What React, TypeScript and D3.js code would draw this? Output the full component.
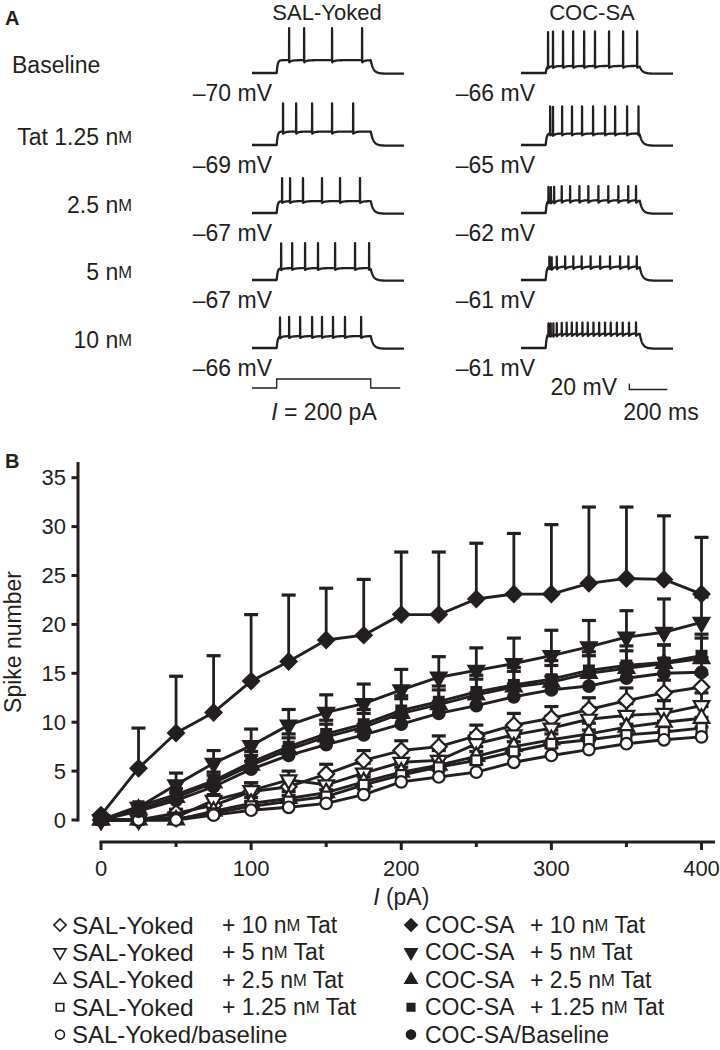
import React from "react";
import * as d3 from "d3";

// ---------- Panel B data ----------
const currents = [0, 25, 50, 75, 100, 125, 150, 175, 200, 225, 250, 275, 300, 325, 350, 375, 400];

const salTat10 = [0, 0, 0.7, 1.5, 2.9, 3.4, 4.7, 6.1, 7.1, 7.5, 8.6, 9.7, 10.4, 11.3, 12.2, 13.0, 13.6];
const salTat10Err = [0, 0, 0.4, 0.7, 0.9, 0.9, 1.0, 1.0, 1.0, 1.1, 1.1, 1.2, 1.2, 1.2, 1.3, 1.3, 1.3];
const salTat5 = [0, 0, 0.3, 2.0, 3.0, 4.1, 3.6, 4.8, 5.9, 6.1, 7.8, 8.7, 9.4, 10.3, 10.7, 10.9, 11.7];
const salTat5Err = [0, 0, 0.3, 0.6, 0.8, 0.9, 0.9, 1.0, 1.0, 1.0, 1.1, 1.1, 1.2, 1.2, 1.2, 1.3, 1.3];
const salTat25 = [0, 0, 0, 0.9, 1.7, 2.2, 2.8, 3.9, 4.9, 5.6, 6.5, 7.5, 8.2, 8.8, 9.5, 10.0, 10.4];
const salTat25Err = [0, 0, 0, 0.4, 0.6, 0.7, 0.8, 0.8, 0.9, 0.9, 1.0, 1.0, 1.0, 1.1, 1.1, 1.1, 1.2];
const salTat125 = [0, 0, 0.1, 0.7, 1.4, 1.9, 2.4, 3.6, 4.6, 5.4, 6.1, 7.0, 7.8, 8.2, 8.7, 9.0, 9.4];
const salTat125Err = [0, 0, 0.1, 0.4, 0.5, 0.6, 0.7, 0.8, 0.8, 0.9, 0.9, 1.0, 1.0, 1.0, 1.1, 1.1, 1.1];
const salBase = [0, 0, 0, 0.5, 1.0, 1.3, 1.7, 2.6, 3.9, 4.4, 4.9, 5.9, 6.6, 7.2, 7.8, 8.2, 8.5];
const salBaseErr = [0, 0, 0, 0.3, 0.4, 0.5, 0.6, 0.6, 0.7, 0.7, 0.8, 0.8, 0.8, 0.9, 0.9, 0.9, 1.0];

const cocTat10 = [0.5, 5.3, 8.9, 11.0, 14.2, 16.2, 18.4, 18.9, 21.0, 21.0, 22.6, 23.1, 23.1, 24.2, 24.7, 24.6, 23.1];
const cocTat10Err = [0, 4.1, 5.8, 5.8, 6.8, 6.8, 5.3, 5.7, 6.4, 6.4, 5.7, 6.2, 7.1, 7.8, 7.3, 6.5, 5.8];
const cocTat5 = [0, 1.3, 3.6, 5.8, 7.6, 9.7, 11.0, 11.9, 13.3, 14.6, 15.3, 16.0, 16.8, 17.7, 18.7, 19.2, 20.2];
const cocTat5Err = [0, 0.3, 1.2, 1.3, 1.7, 1.6, 1.8, 2.0, 2.1, 2.1, 2.3, 2.6, 2.6, 2.7, 2.7, 3.4, 2.6];
const cocTat25 = [0, 1.1, 2.3, 3.8, 5.6, 7.2, 8.5, 9.5, 10.9, 11.8, 12.8, 13.6, 14.1, 15.0, 15.5, 16.0, 16.5];
const cocTat25Err = [0, 0.3, 0.5, 0.8, 1.0, 1.2, 1.3, 1.4, 1.5, 1.5, 1.6, 1.6, 1.7, 1.8, 1.8, 1.9, 2.1];
const cocTat125 = [0, 1.4, 2.6, 4.0, 5.9, 7.5, 8.8, 9.8, 11.2, 12.1, 13.1, 13.8, 14.4, 15.3, 15.8, 16.1, 16.8];
const cocTat125Err = [0, 0.3, 0.6, 0.9, 1.1, 1.3, 1.4, 1.5, 1.5, 1.6, 1.7, 1.8, 1.9, 1.9, 2.0, 1.8, 2.2];
const cocBase = [0, 0.9, 2.0, 3.4, 5.2, 6.6, 7.7, 8.7, 9.8, 10.9, 11.7, 12.6, 13.3, 13.7, 14.5, 15.0, 15.1];
const cocBaseErr = [0, 0.2, 0.4, 0.6, 0.8, 0.9, 1.0, 1.1, 1.2, 1.2, 1.3, 1.3, 1.4, 1.4, 1.5, 1.5, 1.5];

const xTicksMajor = [0, 100, 200, 300, 400];
const xTicksMinor = [50, 150, 250, 350];
const yTicks = [0, 5, 10, 15, 20, 25, 30, 35];

// ---------- Panel A data ----------
const rowLabels = ["Baseline", "Tat 1.25", "2.5", "5", "10"];
const salVm = ["–70 mV", "–69 mV", "–67 mV", "–67 mV", "–66 mV"];
const cocVm = ["–66 mV", "–65 mV", "–62 mV", "–61 mV", "–61 mV"];
// spike times (ms from trace start)
const salSpikeTimes = [
  [195, 274, 421, 579],
  [163, 232, 316, 421, 532],
  [158, 200, 268, 368, 463, 568],
  [153, 211, 279, 347, 437, 542, 616],
  [147, 195, 253, 316, 368, 426, 489, 574],
];
const cocSpikeTimes = [
  [142, 168, 221, 274, 332, 389, 463, 537, 611],
  [153, 168, 216, 268, 321, 379, 442, 495, 558, 618],
  [144, 157, 174, 214, 258, 307, 354, 407, 459, 512, 564, 605],
  [149, 161, 188, 232, 275, 319, 366, 416, 468, 521, 565, 609],
  [144, 156, 170, 188, 214, 240, 267, 293, 323, 351, 381, 411, 442, 472, 504, 535, 568, 605],
];
const salSpikeAmp = [100, 88, 72, 78, 60];
const cocSpikeAmp = [108, 85, 44, 32, 34];
const salPlateau = [40, 42, 37, 37, 37];
const cocPlateau = [22, 36, 40, 42, 46];
const salAhp = [7, 7, 6, 6, 6];
const cocAhp = [6, 6, 8, 8, 8];
const stepCurrent = [0, 0, 200, 200, 0, 0];
const stepTimes = [0, 130, 130, 625, 625, 780];

const ON = 130;
const OFF = 625;
const TOTAL = 800;

const FONT = "'Liberation Sans', Arial, Helvetica, sans-serif";
const INK = "#231f20";

function buildTrace(spikes: number[], plateau: number, amp: number, ahp: number): [number, number][] {
  const sp = [...spikes].sort((a, b) => a - b);
  const endLevel = plateau * (1 - Math.exp(-(OFF - ON) / 5));
  const V = (t: number) => {
    let v = 0;
    if (t >= ON && t < OFF) v = plateau * (1 - Math.exp(-(t - ON) / 5));
    else if (t >= OFF) v = endLevel * Math.exp(-(t - OFF) / 14) - 2 * (1 - Math.exp(-(t - OFF) / 14));
    if (t < OFF + 30) for (const s of sp) if (s < t) v -= ahp * Math.exp(-(t - s) / 12);
    return v;
  };
  const pts: [number, number][] = [];
  let k = 0;
  for (let t = 0; t <= TOTAL; t += 1) {
    while (k < sp.length && sp[k] <= t) {
      const s = sp[k];
      const b = V(s);
      pts.push([s, b], [s + 0.4, b + amp], [s + 0.9, b - ahp * 0.6]);
      k++;
    }
    pts.push([t, V(t)]);
  }
  return pts;
}

type Shape = "diamond" | "down" | "up" | "square" | "circle";

function symbolPath(shape: Shape, size: number) {
  if (shape === "circle") return d3.symbol().type(d3.symbolCircle).size(size)() as string;
  if (shape === "square" || shape === "diamond") return d3.symbol().type(d3.symbolSquare).size(size)() as string;
  return d3.symbol().type(d3.symbolTriangle).size(size)() as string;
}
function symbolRot(shape: Shape) {
  if (shape === "diamond") return 45;
  if (shape === "down") return 180;
  return 0;
}
const markerSize: Record<Shape, number> = { diamond: 125, down: 105, up: 105, square: 95, circle: 105 };

function NM({ size }: { size: number }) {
  return (
    <>
      <tspan>n</tspan>
      <tspan fontSize={size * 0.72}>M</tspan>
    </>
  );
}

export default function App() {
  const series = [
    { group: "SAL-Yoked", tat: "10", shape: "diamond" as Shape, filled: false, values: salTat10, err: salTat10Err },
    { group: "SAL-Yoked", tat: "5", shape: "down" as Shape, filled: false, values: salTat5, err: salTat5Err },
    { group: "SAL-Yoked", tat: "2.5", shape: "up" as Shape, filled: false, values: salTat25, err: salTat25Err },
    { group: "SAL-Yoked", tat: "1.25", shape: "square" as Shape, filled: false, values: salTat125, err: salTat125Err },
    { group: "SAL-Yoked", tat: "", shape: "circle" as Shape, filled: false, values: salBase, err: salBaseErr },
    { group: "COC-SA", tat: "10", shape: "diamond" as Shape, filled: true, values: cocTat10, err: cocTat10Err },
    { group: "COC-SA", tat: "5", shape: "down" as Shape, filled: true, values: cocTat5, err: cocTat5Err },
    { group: "COC-SA", tat: "2.5", shape: "up" as Shape, filled: true, values: cocTat25, err: cocTat25Err },
    { group: "COC-SA", tat: "1.25", shape: "square" as Shape, filled: true, values: cocTat125, err: cocTat125Err },
    { group: "COC-SA", tat: "", shape: "circle" as Shape, filled: true, values: cocBase, err: cocBaseErr },
  ];

  const x = d3.scaleLinear().domain([0, 400]).range([101, 701.5]);
  const y = d3.scaleLinear().domain([0, 35]).range([820, 477.7]);
  const line = d3
    .line<number>()
    .x((_, i) => x(currents[i]))
    .y((d) => y(d));

  // Panel A scales
  const rowBase = [73, 145, 213, 280, 348];
  const salX = d3.scaleLinear().domain([0, TOTAL]).range([252, 404]);
  const cocX = d3.scaleLinear().domain([0, TOTAL]).range([521, 673]);
  const mv = (row: number) => d3.scaleLinear().domain([0, 1]).range([rowBase[row], rowBase[row] - 0.32]);

  const traceLine = (xs: d3.ScaleLinear<number, number>, ys: d3.ScaleLinear<number, number>) =>
    d3
      .line<[number, number]>()
      .x((d) => xs(d[0]))
      .y((d) => ys(d[1]));

  const curY = d3.scaleLinear().domain([0, 200]).range([388, 379]);
  const stepLine = d3
    .line<number>()
    .x((_, i) => salX(stepTimes[i]))
    .y((d) => curY(d));

  const fs = 23;

  return (
    <svg
      width={720}
      height={1050}
      style={{ position: "absolute", left: 0, top: 0, background: "#fff" }}
      fontFamily={FONT}
    >
      <rect x={0} y={0} width={720} height={1050} fill="#fff" />
      {/* ---------------- Panel A ---------------- */}
      <text x={5} y={25} fontSize={20} fontWeight="bold" fill={INK}>
        A
      </text>
      <text x={327} y={20} fontSize={22} textAnchor="middle" fill={INK}>
        SAL-Yoked
      </text>
      <text x={592} y={20} fontSize={22} textAnchor="middle" fill={INK}>
        COC-SA
      </text>
      {rowLabels.map((lab, i) => (
        <text
          key={"rl" + i}
          x={i === 0 ? 12 : 132}
          y={rowBase[i] - 8}
          fontSize={fs}
          textAnchor={i === 0 ? "start" : "end"}
          dominantBaseline="central"
          fill={INK}
        >
          {lab}
          {i > 0 ? (
            <>
              <tspan> </tspan>
              <NM size={fs} />
            </>
          ) : null}
        </text>
      ))}
      {salSpikeTimes.map((sp, i) => (
        <path
          key={"st" + i}
          d={traceLine(salX, mv(i))(buildTrace(sp, salPlateau[i], salSpikeAmp[i], salAhp[i])) as string}
          fill="none"
          stroke={INK}
          strokeWidth={2.3}
          strokeLinejoin="round"
        />
      ))}
      {cocSpikeTimes.map((sp, i) => (
        <path
          key={"ct" + i}
          d={traceLine(cocX, mv(i))(buildTrace(sp, cocPlateau[i], cocSpikeAmp[i], cocAhp[i])) as string}
          fill="none"
          stroke={INK}
          strokeWidth={2.3}
          strokeLinejoin="round"
        />
      ))}
      {salVm.map((v, i) => (
        <text key={"sv" + i} x={272} y={rowBase[i] + 20} fontSize={fs} textAnchor="end" dominantBaseline="central" fill={INK}>
          {v}
        </text>
      ))}
      {cocVm.map((v, i) => (
        <text key={"cv" + i} x={535} y={rowBase[i] + 20} fontSize={fs} textAnchor="end" dominantBaseline="central" fill={INK}>
          {v}
        </text>
      ))}
      <path d={stepLine(stepCurrent) as string} fill="none" stroke={INK} strokeWidth={1.3} />
      <text x={324} y={412} fontSize={fs} textAnchor="middle" dominantBaseline="central" fill={INK}>
        <tspan fontStyle="italic">I</tspan> = 200 pA
      </text>
      {/* scale bar */}
      <path d="M629.3,383.5 V389.5 H667.3" fill="none" stroke={INK} strokeWidth={1.3} />
      <text x={617} y={387} fontSize={fs} textAnchor="end" dominantBaseline="central" fill={INK}>
        20 mV
      </text>
      <text x={661} y={412} fontSize={fs} textAnchor="middle" dominantBaseline="central" fill={INK}>
        200 ms
      </text>

      {/* ---------------- Panel B ---------------- */}
      <text x={5} y={468} fontSize={20} fontWeight="bold" fill={INK}>
        B
      </text>
      {/* y axis */}
      <line x1={78} x2={78} y1={462} y2={y(0) + 1.5} stroke={INK} strokeWidth={3} />
      {yTicks.map((t) => (
        <g key={"yt" + t}>
          <line x1={71.5} x2={78} y1={y(t)} y2={y(t)} stroke={INK} strokeWidth={3} />
          <text x={66} y={y(t)} fontSize={22} textAnchor="end" dominantBaseline="central" fill={INK}>
            {t}
          </text>
        </g>
      ))}
      <text
        transform={`translate(13,642) rotate(-90)`}
        fontSize={fs}
        textAnchor="middle"
        dominantBaseline="central"
        fill={INK}
      >
        Spike number
      </text>
      {/* x axis */}
      <line x1={x(0) - 1.5} x2={715} y1={842} y2={842} stroke={INK} strokeWidth={3} />
      {xTicksMajor.map((t) => (
        <g key={"xt" + t}>
          <line x1={x(t)} x2={x(t)} y1={842} y2={850} stroke={INK} strokeWidth={3} />
          <text x={x(t)} y={868} fontSize={22} textAnchor="middle" dominantBaseline="central" fill={INK}>
            {t}
          </text>
        </g>
      ))}
      {xTicksMinor.map((t) => (
        <line key={"xm" + t} x1={x(t)} x2={x(t)} y1={842} y2={847} stroke={INK} strokeWidth={3} />
      ))}
      <text x={x(200)} y={897} fontSize={fs} textAnchor="middle" dominantBaseline="central" fill={INK}>
        <tspan fontStyle="italic">I</tspan> (pA)
      </text>

      {/* lines */}
      {series.map((s, k) => (
        <path key={"ln" + k} d={line(s.values) as string} fill="none" stroke={INK} strokeWidth={2.9} strokeLinejoin="round" />
      ))}
      {/* error bars */}
      {series.map((s, k) =>
        s.values.map((v, i) =>
          s.err[i] > 0.15 ? (
            <g key={"eb" + k + "-" + i}>
              <line x1={x(currents[i])} x2={x(currents[i])} y1={y(v)} y2={y(v + s.err[i])} stroke={INK} strokeWidth={2.8} />
              <line
                x1={x(currents[i]) - 7}
                x2={x(currents[i]) + 7}
                y1={y(v + s.err[i])}
                y2={y(v + s.err[i])}
                stroke={INK}
                strokeWidth={3.2}
              />
            </g>
          ) : null
        )
      )}
      {/* markers */}
      {series.map((s, k) =>
        s.values.map((v, i) => (
          <path
            key={"mk" + k + "-" + i}
            d={symbolPath(s.shape, markerSize[s.shape])}
            transform={`translate(${x(currents[i])},${y(v)}) rotate(${symbolRot(s.shape)})`}
            fill={s.filled ? INK : "#fff"}
            stroke={INK}
            strokeWidth={2.2}
          />
        ))
      )}

      {/* legend */}
      {series.map((s, k) => {
        const col = k < 5 ? 0 : 1;
        const row = k % 5;
        const ly = 925 + row * 27.4;
        const mx = col === 0 ? 60 : 411;
        const tx = col === 0 ? 72 : 425;
        const tx2 = col === 0 ? 222 : 530;
        return (
          <g key={"lg" + k}>
            <path
              d={symbolPath(s.shape, markerSize[s.shape] * 0.6)}
              transform={`translate(${mx},${ly}) rotate(${symbolRot(s.shape)})`}
              fill={s.filled ? INK : "#fff"}
              stroke={INK}
              strokeWidth={1.6}
            />
            {s.tat ? (
              <>
                <text x={tx} y={ly} fontSize={s.group === "SAL-Yoked" ? 24.5 : fs} dominantBaseline="central" fill={INK}>
                  {s.group}
                </text>
                <text x={tx2} y={ly} fontSize={fs} dominantBaseline="central" fill={INK}>
                  + {s.tat} <NM size={fs} /> Tat
                </text>
              </>
            ) : (
              <text x={tx} y={ly} fontSize={s.group === "SAL-Yoked" ? 24 : fs} dominantBaseline="central" fill={INK}>
                {s.group === "COC-SA" ? "COC-SA/Baseline" : "SAL-Yoked/baseline"}
              </text>
            )}
          </g>
        );
      })}
    </svg>
  );
}
